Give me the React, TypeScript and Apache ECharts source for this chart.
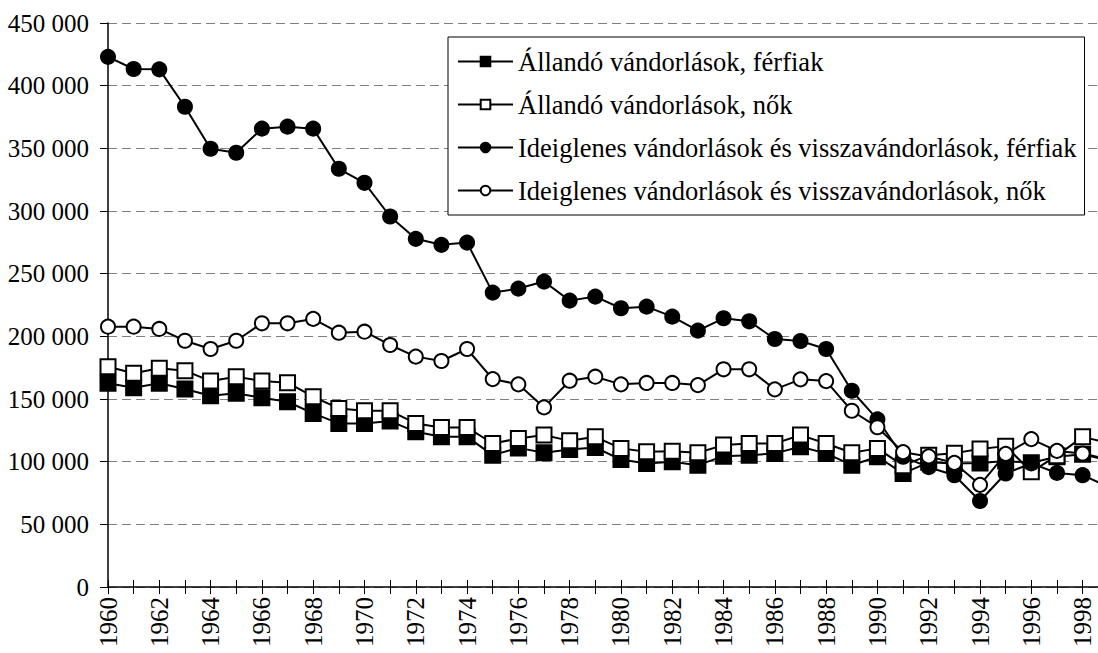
import React, { useEffect, useRef } from "react";
import * as echarts from "echarts";

const years = [
  1960, 1961, 1962, 1963, 1964, 1965, 1966, 1967, 1968, 1969,
  1970, 1971, 1972, 1973, 1974, 1975, 1976, 1977, 1978, 1979,
  1980, 1981, 1982, 1983, 1984, 1985, 1986, 1987, 1988, 1989,
  1990, 1991, 1992, 1993, 1994, 1995, 1996, 1997, 1998, 1999,
];

const allandoFerfi = [
  162500, 159000, 162500, 158000, 152600, 154500, 151000, 147800, 138500, 130500,
  130500, 132400, 123800, 119800, 119800, 105200, 111000, 107100, 109800, 111300,
  101700, 98600, 99900, 97200, 104400, 105200, 106600, 111900, 106600, 97200,
  103900, 90600, 99500, 98600, 98900, 100500, 99100, 104000, 105900, 101000,
];

const allandoNok = [
  175800, 170500, 174500, 172600, 164300, 167800, 164300, 163000, 151800, 142500,
  140600, 140600, 130500, 127300, 127300, 114500, 118500, 121200, 116600, 119800,
  110600, 107900, 108400, 107100, 113200, 114500, 114500, 121200, 114500, 107100,
  110600, 96800, 105200, 106800, 110200, 112400, 91900, 104800, 119800, 115000,
];

const ideiglenesFerfi = [
  423000, 413300, 413000, 383200, 349700, 346500, 365700, 367300, 365700, 333700,
  322500, 295600, 277800, 273000, 274800, 234900, 238100, 243700, 228500, 231700,
  222400, 223700, 215700, 204500, 214400, 212000, 197900, 196300, 189900, 156600,
  133800, 103900, 95600, 89200, 68600, 90600, 98600, 91000, 89200, 80000,
];

const ideiglenesNok = [
  207700, 207700, 205900, 196500, 189900, 196500, 210400, 210400, 213900, 202900,
  203700, 193100, 183800, 180300, 189900, 165900, 161700, 143300, 164600, 167800,
  161700, 162800, 162800, 161100, 173700, 173700, 157700, 165700, 164300, 140600,
  127500, 107600, 104200, 99000, 81500, 106200, 118000, 108600, 106500, 102000,
];

const seriesNames = [
  "Állandó vándorlások, férfiak",
  "Állandó vándorlások, nők",
  "Ideiglenes vándorlások és visszavándorlások, férfiak",
  "Ideiglenes vándorlások és visszavándorlások, nők",
];

const FONT = "Liberation Serif";

export default function App() {
  const ref = useRef<HTMLDivElement>(null);

  useEffect(() => {
    if (!ref.current) return;
    const chart = echarts.init(ref.current, null, { renderer: "svg" });
    const pairs = (vals: number[]) => years.map((y, i) => [y, vals[i]]);
    const mk = (name: string, vals: number[], symbol: string, size: number) => ({
      name,
      type: "line",
      data: pairs(vals),
      symbol,
      symbolSize: size,
      showAllSymbol: true,
      clip: true,
      lineStyle: { color: "#000", width: 2 },
      itemStyle: { color: "#000", borderColor: "#000", borderWidth: 2 },
      emphasis: { disabled: true },
    });
    chart.setOption({
      animation: false,
      backgroundColor: "#fff",
      textStyle: { fontFamily: FONT },
      grid: { left: 108, right: 0, top: 23, bottom: 66, containLabel: false, outerBoundsMode: "none" },
      legend: {
        orient: "vertical",
        left: 448,
        top: 37,
        backgroundColor: "#fff",
        borderColor: "#000",
        borderWidth: 1,
        padding: [11, 8, 11, 9],
        itemGap: 16,
        itemWidth: 55,
        itemHeight: 12,
        textStyle: { fontFamily: FONT, fontSize: 26.5, color: "#000" },
        data: seriesNames,
      },
      xAxis: [
        {
          type: "value",
          min: 1960,
          max: 1998.6,
          interval: 1,
          axisLine: { onZero: false, lineStyle: { color: "#000", width: 1.5 } },
          axisTick: { show: true, length: 7, lineStyle: { color: "#000", width: 1 } },
          axisLabel: {
            rotate: 90,
            fontFamily: FONT,
            fontSize: 25,
            color: "#000",
            margin: 10,
            showMaxLabel: false,
            formatter: (v: number) => (Math.round(v) % 2 === 0 ? String(Math.round(v)) : ""),
          },
          splitLine: { show: false },
        },
        {
          type: "value",
          position: "bottom",
          min: 1960,
          max: 1998.6,
          interval: 1,
          axisLine: { show: false },
          axisTick: { show: true, inside: true, length: 7, lineStyle: { color: "#000", width: 1 } },
          axisLabel: { show: false },
          splitLine: { show: false },
        },
      ],
      yAxis: {
        type: "value",
        min: 0,
        max: 450000,
        interval: 50000,
        axisLine: { show: true, lineStyle: { color: "#000", width: 1.5 } },
        axisTick: { show: true, length: 8, lineStyle: { color: "#000", width: 1 } },
        axisLabel: {
          fontFamily: FONT,
          fontSize: 25,
          color: "#000",
          margin: 19,
          formatter: (v: number) =>
            v === 0 ? "0" : `${Math.floor(v / 1000)} ${String(v % 1000).padStart(3, "0")}`,
        },
        splitLine: { show: true, lineStyle: { color: "#808080", width: 1, type: [9, 5] } },
      },
      series: [
        mk(seriesNames[0], allandoFerfi, "rect", 15),
        mk(seriesNames[1], allandoNok, "emptyRect", 15),
        mk(seriesNames[2], ideiglenesFerfi, "circle", 14),
        mk(seriesNames[3], ideiglenesNok, "emptyCircle", 14),
      ],
    });
    return () => chart.dispose();
  }, []);

  return (
    <div
      ref={ref}
      style={{ position: "fixed", left: 0, top: 0, width: 1098, height: 653, background: "#fff" }}
    />
  );
}
